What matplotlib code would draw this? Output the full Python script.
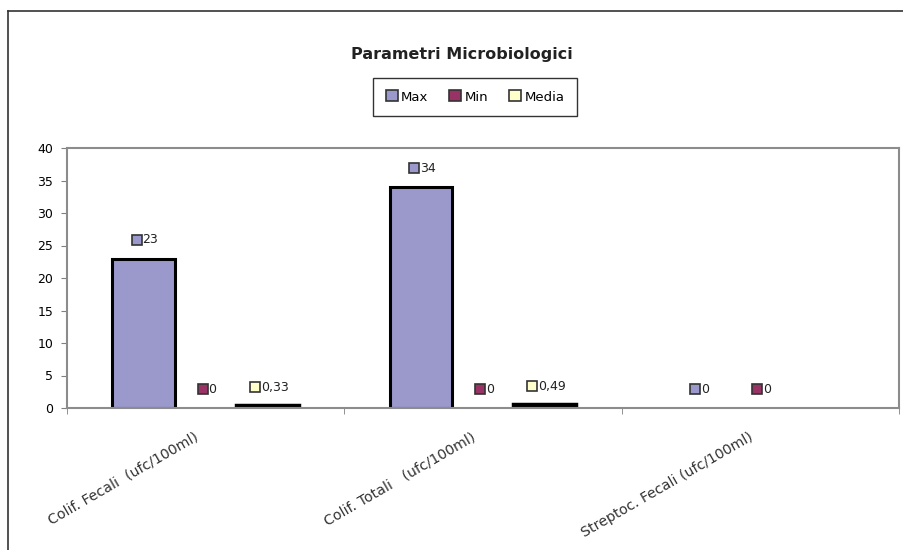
import matplotlib
matplotlib.use("Agg")
import matplotlib.pyplot as plt
import matplotlib.transforms as mtransforms
import numpy as np
from matplotlib.lines import Line2D
from matplotlib.patches import Patch

plt.rcParams['font.family'] = ['DejaVu Sans']

categories = ['Colif. Fecali  (ufc/100ml)', 'Colif. Totali   (ufc/100ml)', 'Streptoc. Fecali (ufc/100ml)']
series_names = ['Max', 'Min', 'Media']
max_vals = [23, 34, 0]
min_vals = [0, 0, 0]
media_vals = [0.33, 0.49, np.nan]
colors = ['#9b99cc', '#993366', '#ffffcc']
edge_widths = [2.2, 2.2, 3.2]

fig = plt.figure(figsize=(9.04, 5.5), dpi=100)
ax = fig.add_axes([67 / 904, 142 / 550, 832 / 904, 260 / 550])

x = np.arange(len(categories))
w = 0.224
series = [max_vals, min_vals, media_vals]
labels_to_do = []
for k, (vals, col, ew) in enumerate(zip(series, colors, edge_widths)):
    xs = x + (k - 1) * w
    vals = np.array(vals, dtype=float)
    lws = [0 if v == 0 else ew for v in vals]
    ax.bar(xs, vals, width=w, color=col, edgecolor='black', linewidth=lws)
    for xi, v in zip(xs, vals):
        if np.isnan(v):
            continue
        s = ('%g' % v).replace('.', ',')
        t = ax.annotate(s, (xi, v), xytext=(5, 13.5), textcoords='offset points',
                        ha='center', va='center', fontsize=9, color='#222222')
        labels_to_do.append((t, col))

ax.set_xlim(-0.5, 2.5)
ax.set_ylim(0, 40)
ax.set_yticks(np.arange(0, 41, 5))
ax.tick_params(axis='y', labelsize=9, length=4, color='#808080', pad=6)
ax.set_xticks(x)
ax.set_xticklabels(categories, rotation=30, ha='right', rotation_mode='anchor', fontsize=10.2, color='#333333')
ax.tick_params(axis='x', which='major', length=0, pad=16)
ax.set_xticks([-0.5, 0.5, 1.5, 2.5], minor=True)
ax.tick_params(axis='x', which='minor', length=4, color='#808080')
shift = mtransforms.ScaledTranslation(-12 / 100, 0, fig.dpi_scale_trans)
for lbl in ax.get_xticklabels():
    lbl.set_transform(lbl.get_transform() + shift)
for sp in ax.spines.values():
    sp.set_color('#8c8c8c')
    sp.set_linewidth(1.5)

# legend
handles = [Patch(facecolor=c, edgecolor='#333333', linewidth=1.2) for c in colors]
leg = fig.legend(handles, series_names, loc='center', bbox_to_anchor=(475 / 904, 1 - 97 / 550),
                 ncol=3, fontsize=9.5, frameon=True, fancybox=False, edgecolor='black',
                 handlelength=0.9, handleheight=0.9, handletextpad=0.25, columnspacing=1.6,
                 borderpad=0.95, borderaxespad=0)
leg.get_frame().set_linewidth(1.0)

fig.text(462 / 904, 1 - 55 / 550, 'Parametri Microbiologici', ha='center', va='center',
         fontsize=11.5, fontweight='bold', color='#222222')

# outer frame lines
fig.add_artist(Line2D([8 / 904, 1], [1 - 11 / 550, 1 - 11 / 550], color='#333333', lw=1.2))
fig.add_artist(Line2D([8 / 904, 8 / 904], [0, 1 - 11 / 550], color='#333333', lw=1.2))

# legend keys in data labels
fig.canvas.draw()
r = fig.canvas.get_renderer()
inv = ax.transData.inverted()
for t, col in labels_to_do:
    bb = t.get_window_extent(r)
    px, py = inv.transform((bb.x0 - 6, (bb.y0 + bb.y1) / 2))
    ax.plot(px, py, marker='s', markersize=7, markerfacecolor=col,
            markeredgecolor='#333333', markeredgewidth=1.2, clip_on=False)

fig.savefig('out.png', dpi=100)
